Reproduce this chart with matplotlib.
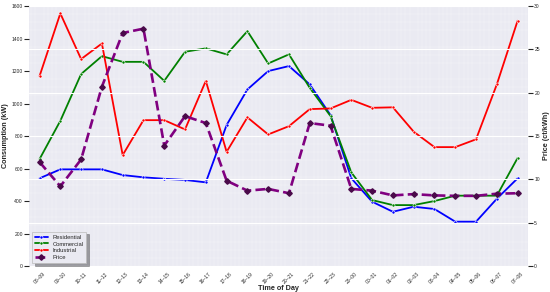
import matplotlib
matplotlib.use("Agg")
import matplotlib.pyplot as plt
import seaborn as sns

sns.set_style("darkgrid")
plt.rcParams['font.family'] = ['Liberation Sans', 'DejaVu Sans']

hours = ["08–09", "09–10", "10–11", "11–12", "12–13", "13–14", "14–15", "15–16",
         "16–17", "17–18", "18–19", "19–20", "20–21", "21–22", "22–23", "23–00",
         "00–01", "01–02", "02–03", "03–04", "04–05", "05–06", "06–07", "07–08"]
residential = [540, 595, 595, 595, 560, 546, 537, 530, 515, 868, 1087, 1200,
               1231, 1118, 929, 540, 396, 334, 365, 351, 273, 273, 414, 540]
commercial = [658, 894, 1182, 1292, 1257, 1257, 1140, 1319, 1340, 1303, 1446, 1247,
              1303, 1097, 923, 576, 406, 375, 375, 400, 433, 433, 433, 665]
industrial = [1169, 1555, 1274, 1370, 683, 898, 898, 841, 1140, 703, 915, 810,
              861, 966, 970, 1023, 974, 977, 827, 732, 732, 780, 1118, 1510]
price = [12.0, 9.2, 12.3, 20.7, 26.9, 27.4, 13.9, 17.3, 16.5, 9.85, 8.7, 8.9,
         8.4, 16.5, 16.2, 8.9, 8.7, 8.15, 8.3, 8.15, 8.1, 8.1, 8.35, 8.4]

x = list(range(len(hours)))

fig = plt.figure(figsize=(5.5, 2.92), dpi=100)
ax1 = fig.add_axes([0.053, 0.089, 0.907, 0.89])
ax2 = ax1.twinx()

mk = dict(marker='o', markersize=2.2, markeredgecolor='white', markeredgewidth=0.4)
l1, = ax1.plot(x, residential, color='blue', lw=1.3, label='Residential', **mk)
l2, = ax1.plot(x, commercial, color='green', lw=1.3, label='Commercial', **mk)
l3, = ax1.plot(x, industrial, color='red', lw=1.3, label='Industrial', **mk)
l4, = ax2.plot(x, price, color='purple', lw=1.9, linestyle='--', marker='D',
               markersize=2.8, markerfacecolor='#4a0a4a', markeredgecolor='#4a0a4a',
               label='Price')

ax1.set_xlim(-0.5, len(hours) - 0.5)
ax1.set_ylim(0, 1600)
ax2.set_ylim(0, 30)
ax1.set_xticks(x)
ax1.set_xticklabels(hours, rotation=45, fontsize=3.6)
ax1.set_yticks(range(0, 1601, 200))
ax2.set_yticks(range(0, 31, 5))
ax1.tick_params(axis='y', labelsize=3.6, pad=1)
ax2.tick_params(axis='y', labelsize=3.6, pad=1)
ax1.tick_params(axis='x', pad=0.5)
ax1.set_ylabel('Consumption (kW)', fontsize=5.2, fontweight='bold', labelpad=1.5)
ax2.set_ylabel('Price (ct/kWh)', fontsize=5.2, fontweight='bold', labelpad=2)
ax1.set_xlabel('Time of Day', fontsize=5.2, fontweight='bold', labelpad=0)

ax1.grid(False)
ax1.minorticks_on()
ax1.grid(True, which='minor', color='white', lw=0.3, alpha=0.6)
ax1.tick_params(which='minor', length=0)
ax2.grid(True, color='white', lw=0.8)
for sp in list(ax1.spines.values()) + list(ax2.spines.values()):
    sp.set_visible(False)

leg = ax1.legend(handles=[l1, l2, l3, l4], loc='lower left', fontsize=4.2,
                 frameon=True, shadow=True, fancybox=False, borderpad=0.5,
                 handlelength=2.2, labelspacing=0.3)
leg.get_frame().set_edgecolor('#bbbbbb')
leg.get_frame().set_linewidth(0.5)

fig.savefig('out.png', dpi=100)
